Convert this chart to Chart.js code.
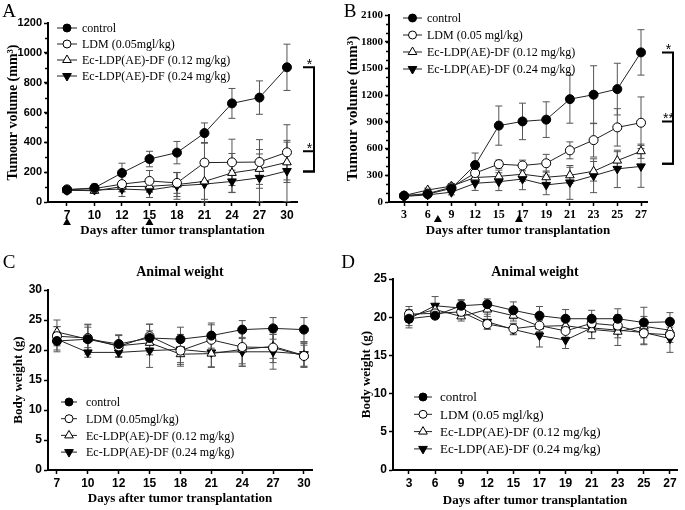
<!DOCTYPE html>
<html lang="en">
<head>
  <meta charset="UTF-8">
  <title>Tumour volume and animal weight</title>
  <script src="https://cdn.jsdelivr.net/npm/chart.js"></script>
  <style>
    body { margin: 0; background: #fff; }
    #wrap { position: relative; width: 685px; height: 510px; }
    canvas { position: absolute; }
  </style>
</head>
<body>
<div id="wrap">
  <canvas id="chartA" width="340" height="250" style="left:0;top:0"></canvas>
  <canvas id="chartB" width="345" height="250" style="left:340px;top:0"></canvas>
  <canvas id="chartC" width="340" height="260" style="left:0;top:250px"></canvas>
  <canvas id="chartD" width="345" height="260" style="left:340px;top:250px"></canvas>
</div>

<script>
  // ---- data ----
  const namesAC = ['control', 'LDM (0.05mgl/kg)', 'Ec-LDP(AE)-DF (0.12 mg/kg)', 'Ec-LDP(AE)-DF (0.24 mg/kg)'];
  const namesBD = ['control', 'LDM (0.05 mgl/kg)', 'Ec-LDP(AE)-DF (0.12 mg/kg)', 'Ec-LDP(AE)-DF (0.24 mg/kg)'];

  const daysAC = ['7', '10', '12', '15', '18', '21', '24', '27', '30'];
  const daysBD = ['3', '6', '9', '12', '15', '17', '19', '21', '23', '25', '27'];

  // A: tumour volume (mm3)
  const controlA = [80, 95, 195, 288, 331, 462, 661, 700, 903];
  const controlAsd = [15, 25, 65, 52, 75, 68, 100, 112, 155];
  const ldmA = [85, 90, 120, 141, 128, 264, 266, 268, 333];
  const ldmAsd = [15, 20, 50, 70, 70, 135, 155, 150, 185];
  const ec12A = [80, 75, 103, 105, 117, 138, 195, 222, 266];
  const ec12Asd = [12, 15, 35, 40, 80, 120, 130, 130, 135];
  const ec24A = [78, 80, 87, 80, 108, 120, 138, 162, 208];
  const ec24Asd = [12, 15, 50, 50, 90, 120, 75, 160, 205];

  // B: tumour volume (mm3)
  const controlB = [70, 88, 153, 415, 858, 905, 925, 1155, 1205, 1268, 1680];
  const controlBsd = [15, 20, 30, 135, 220, 205, 200, 270, 325, 290, 255];
  const ldmB = [70, 95, 165, 325, 425, 410, 435, 580, 695, 838, 890];
  const ldmBsd = [15, 20, 30, 60, 45, 60, 100, 95, 190, 210, 290];
  const ec12B = [72, 135, 178, 275, 288, 312, 278, 300, 345, 465, 570];
  const ec12Bsd = [15, 20, 30, 60, 70, 80, 70, 90, 110, 100, 80];
  const ec24B = [62, 80, 110, 210, 228, 258, 192, 220, 295, 372, 400];
  const ec24Bsd = [10, 20, 30, 80, 100, 120, 110, 190, 190, 210, 235];

  // C: body weight (g)
  const controlC = [21.5, 21.8, 21.0, 22.0, 21.8, 22.4, 23.4, 23.6, 23.4];
  const controlCsd = [1.5, 2.0, 1.5, 2.3, 2.0, 2.1, 1.5, 1.8, 2.0];
  const ldmC = [22.3, 22.0, 20.6, 22.3, 19.9, 21.7, 20.5, 20.4, 19.0];
  const ldmCsd = [1.6, 2.2, 1.8, 2.0, 2.0, 2.5, 2.8, 2.5, 1.8];
  const ec12C = [23.0, 21.8, 20.7, 21.2, 19.3, 19.4, 20.1, 20.6, 19.1];
  const ec12Csd = [2.0, 2.5, 1.8, 2.0, 2.0, 2.2, 2.8, 2.0, 2.0];
  const ec24C = [21.8, 19.6, 19.6, 19.9, 20.1, 19.6, 19.7, 19.7, 19.3];
  const ec24Csd = [2.1, 0.8, 0.8, 2.8, 2.5, 2.5, 2.4, 2.9, 2.0];

  // D: body weight (g)
  const controlD = [19.8, 20.2, 21.5, 21.7, 20.9, 20.2, 19.8, 19.8, 19.8, 19.3, 19.4];
  const controlDsd = [0.9, 0.4, 0.8, 0.7, 1.1, 1.2, 1.2, 1.1, 1.3, 2.0, 1.2];
  const ldmD = [20.4, 20.5, 20.7, 19.1, 18.5, 18.9, 18.2, 19.2, 18.9, 17.9, 17.7];
  const ldmDsd = [1.0, 0.5, 0.8, 0.6, 0.7, 0.8, 0.8, 0.8, 0.8, 1.5, 1.0];
  const ec12D = [20.1, 21.0, 20.1, 21.0, 20.2, 18.8, 18.9, 18.4, 18.1, 18.8, 18.3];
  const ec12Dsd = [0.8, 0.6, 0.6, 0.9, 0.7, 0.8, 0.8, 1.2, 0.8, 1.3, 1.0];
  const ec24D = [19.8, 21.5, 21.2, 19.4, 18.4, 17.6, 17.0, 18.6, 18.3, 18.0, 17.2];
  const ec24Dsd = [1.2, 1.2, 1.0, 1.0, 0.7, 1.5, 1.1, 1.4, 2.0, 1.5, 1.8];

  // dosing days (position on the day axis) and significance brackets
  const dosesA = [0, 3];
  const dosesB = [1.43, 4.85];
  const bracketsA = [[903, 205, '*'], [340, 205, '*']];
  const bracketsB = [[1680, 430, '*'], [905, 430, '**']];

  // ---- styling ----
  const SERIF = '"Liberation Serif", "Times New Roman", serif';
  const SANS = '"Liberation Sans", Arial, sans-serif';
  const markers = [
    {shape: 'circle', fill: '#000', r: 4.5, rot: 0},
    {shape: 'circle', fill: '#fff', r: 4.5, rot: 0},
    {shape: 'triangle', fill: '#fff', r: 5, rot: 0},
    {shape: 'triangle', fill: '#000', r: 5, rot: 180},
  ];

  function drawMarker(ctx, m, x, y) {
    ctx.beginPath();
    if (m.shape === 'circle') {
      ctx.arc(x, y, m.r - 0.5, 0, Math.PI * 2);
    } else {
      let rad = m.rot * Math.PI / 180;
      for (let k = 0; k < 3; k++) {
        const px = x + Math.sin(rad) * m.r, py = y - Math.cos(rad) * m.r;
        k === 0 ? ctx.moveTo(px, py) : ctx.lineTo(px, py);
        rad += Math.PI * 2 / 3;
      }
      ctx.closePath();
    }
    ctx.fillStyle = m.fill;
    ctx.fill();
    ctx.strokeStyle = '#000';
    ctx.lineWidth = 1;
    ctx.stroke();
  }

  const decor = {
    id: 'decor',
    beforeDatasetsDraw(chart) {
      const ctx = chart.ctx, y = chart.scales.y;
      ctx.save();
      ctx.strokeStyle = '#555';
      ctx.lineWidth = 1;
      chart.data.datasets.forEach((ds, di) => {
        chart.getDatasetMeta(di).data.forEach((pt, i) => {
          const v = ds.data[i].y, e = ds.errors[i];
          const top = y.getPixelForValue(v + e);
          const bot = y.getPixelForValue(Math.max(v - e, 0));
          ctx.beginPath();
          ctx.moveTo(pt.x, top); ctx.lineTo(pt.x, bot);
          ctx.moveTo(pt.x - 3.5, top); ctx.lineTo(pt.x + 3.5, top);
          ctx.moveTo(pt.x - 3.5, bot); ctx.lineTo(pt.x + 3.5, bot);
          ctx.stroke();
        });
      });
      ctx.restore();
    },
    afterDraw(chart, args, o) {
      const {ctx, chartArea: ca} = chart;
      const x = chart.scales.x, y = chart.scales.y;
      ctx.save();
      ctx.fillStyle = '#000';
      ctx.textAlign = 'center';
      ctx.textBaseline = 'middle';
      ctx.font = '19px ' + SERIF;
      ctx.fillText(o.letter[0], o.letter[1], o.letter[2]);

      if (o.title) {
        ctx.font = 'bold 14px ' + SERIF;
        ctx.fillText(o.title, (ca.left + ca.right) / 2, o.titleY);
      }

      // minor ticks on the y axis
      if (o.minorStep) {
        ctx.strokeStyle = '#000';
        ctx.lineWidth = 1.5;
        for (let v = o.minorStep; v < y.max; v += o.minorStep) {
          const py = Math.round(y.getPixelForValue(v)) + 0.5;
          ctx.beginPath();
          ctx.moveTo(ca.left - 3, py);
          ctx.lineTo(ca.left, py);
          ctx.stroke();
        }
      }

      // dosing arrows under the day axis
      (o.doses || []).forEach(d => {
        const px = x.getPixelForValue(d), py = o.doseY;
        ctx.beginPath();
        ctx.moveTo(px, py - 4);
        ctx.lineTo(px + 4, py + 3);
        ctx.lineTo(px - 4, py + 3);
        ctx.closePath();
        ctx.fill();
      });

      // significance brackets
      (o.brackets || []).forEach(b => {
        const y0 = y.getPixelForValue(b[0]), y1 = y.getPixelForValue(b[1]);
        const [x0, x1] = o.bracketX;
        ctx.strokeStyle = '#000';
        ctx.lineWidth = 2;
        ctx.beginPath();
        ctx.moveTo(x0, y0); ctx.lineTo(x1, y0); ctx.lineTo(x1, y1); ctx.lineTo(x0, y1);
        ctx.stroke();
        ctx.font = '14px ' + SANS;
        ctx.textBaseline = 'alphabetic';
        ctx.fillStyle = '#000';
        ctx.fillText(b[2], (x0 + x1) / 2 + 1, y0 + 2);
      });

      // legend
      const L = o.legend;
      ctx.font = L.size + 'px ' + SERIF;
      ctx.textAlign = 'left';
      ctx.textBaseline = 'middle';
      chart.data.datasets.forEach((ds, i) => {
        const ly = L.y + i * L.rowH;
        ctx.strokeStyle = '#222';
        ctx.lineWidth = 1;
        ctx.beginPath();
        ctx.moveTo(L.x0, ly); ctx.lineTo(L.x1, ly);
        ctx.stroke();
        drawMarker(ctx, markers[i], (L.x0 + L.x1) / 2, ly);
        ctx.fillStyle = '#000';
        ctx.fillText(ds.label, L.tx, ly + 1);
      });
      ctx.restore();
    }
  };

  function buildPanel(id, p) {
    const datasets = p.series.map((vals, k) => ({
      label: p.names[k],
      data: vals.map((v, i) => ({x: i, y: v})),
      errors: p.errors[k],
      borderColor: '#222',
      borderWidth: 1,
      pointStyle: markers[k].shape,
      pointRotation: markers[k].rot,
      pointRadius: markers[k].r,
      pointBackgroundColor: markers[k].fill,
      pointBorderColor: '#000',
      pointBorderWidth: 1,
      tension: 0,
    }));

    return new Chart(document.getElementById(id), {
      type: 'line',
      data: {datasets},
      plugins: [decor],
      options: {
        responsive: false,
        animation: false,
        events: [],
        layout: {padding: p.padding},
        scales: {
          x: {
            type: 'linear',
            min: p.xRange[0],
            max: p.xRange[1],
            afterBuildTicks: s => { s.ticks = p.days.map((d, i) => ({value: i})); },
            afterFit: s => { s.height = p.xH; },
            border: {color: '#000', width: 2},
            grid: {drawOnChartArea: false, tickLength: 4, tickWidth: 1.5, tickColor: '#000'},
            ticks: {
              callback: v => p.days[v],
              color: '#000',
              padding: 2,
              maxRotation: 0,
              font: {family: p.tickFamily, size: 12, weight: 'bold'},
            },
            title: {
              display: true,
              text: 'Days after tumor transplantation',
              color: '#000',
              font: {family: SERIF, size: 13, weight: 'bold'},
              padding: {top: 0, bottom: p.xTitlePad},
            },
          },
          y: {
            min: 0,
            max: p.yMax,
            afterFit: s => { s.width = p.yW; },
            border: {color: '#000', width: 2},
            grid: {drawOnChartArea: false, tickLength: 4, tickWidth: 1.5, tickColor: '#000'},
            ticks: {
              stepSize: p.yStep,
              callback: v => String(v),
              color: '#000',
              padding: 2,
              font: {family: p.tickFamily, size: p.yFont, weight: 'bold'},
            },
            title: {
              display: true,
              text: p.yTitle,
              color: '#000',
              font: {family: SERIF, size: p.yTitleSize, weight: 'bold'},
              padding: {top: p.yTitlePad, bottom: 0},
            },
          },
        },
        plugins: {
          legend: {display: false},
          tooltip: {enabled: false},
          decor: p.decor,
        },
      },
    });
  }

  buildPanel('chartA', {
    names: namesAC, days: daysAC,
    series: [controlA, ldmA, ec12A, ec24A],
    errors: [controlAsd, ldmAsd, ec12Asd, ec24Asd],
    padding: {left: 0, right: 43, top: 23, bottom: 0},
    xRange: [-0.69, 8.365], xH: 48, xTitlePad: 12,
    yW: 48, yMax: 1200, yStep: 200, yFont: 11, tickFamily: SANS,
    yTitle: 'Tumour volume (mm³)', yTitleSize: 14, yTitlePad: 5,
    decor: {
      letter: ['A', 9, 12], minorStep: 100,
      doses: dosesA, doseY: 222,
      brackets: bracketsA, bracketX: [303, 314],
      legend: {x0: 57, x1: 77, tx: 82, y: 28, rowH: 16, size: 12},
    },
  });

  buildPanel('chartB', {
    names: namesBD, days: daysBD,
    series: [controlB, ldmB, ec12B, ec24B],
    errors: [controlBsd, ldmBsd, ec12Bsd, ec24Bsd],
    padding: {left: 0, right: 38, top: 15, bottom: 0},
    xRange: [-0.633, 10.253], xH: 48, xTitlePad: 12,
    yW: 49, yMax: 2100, yStep: 300, yFont: 11, tickFamily: SERIF,
    yTitle: 'Tumour volume (mm³)', yTitleSize: 15, yTitlePad: 4,
    decor: {
      letter: ['B', 10, 12], minorStep: 100,
      doses: dosesB, doseY: 219,
      brackets: bracketsB, bracketX: [322, 333],
      legend: {x0: 63, x1: 82, tx: 87, y: 18, rowH: 17, size: 12},
    },
  });

  buildPanel('chartC', {
    names: namesAC, days: daysAC,
    series: [controlC, ldmC, ec12C, ec24C],
    errors: [controlCsd, ldmCsd, ec12Csd, ec24Csd],
    padding: {left: 0, right: 28, top: 40, bottom: 0},
    xRange: [-0.29, 8.26], xH: 40, xTitlePad: 4,
    yW: 48, yMax: 30, yStep: 5, yFont: 12, tickFamily: SANS,
    yTitle: 'Body weight (g)', yTitleSize: 13, yTitlePad: 11,
    decor: {
      letter: ['C', 9, 13], title: 'Animal weight', titleY: 22,
      legend: {x0: 61, x1: 77, tx: 86, y: 152, rowH: 16.7, size: 12},
    },
  });

  buildPanel('chartD', {
    names: namesBD, days: daysBD,
    series: [controlD, ldmD, ec12D, ec24D],
    errors: [controlDsd, ldmDsd, ec12Dsd, ec24Dsd],
    padding: {left: 0, right: 8, top: 29, bottom: 0},
    xRange: [-0.613, 10.27], xH: 40, xTitlePad: 2,
    yW: 53, yMax: 25, yStep: 5, yFont: 12, tickFamily: SANS,
    yTitle: 'Body weight (g)', yTitleSize: 13, yTitlePad: 19,
    decor: {
      letter: ['D', 8, 13], title: 'Animal weight', titleY: 22,
      legend: {x0: 74, x1: 92, tx: 100, y: 147, rowH: 17.3, size: 13},
    },
  });
</script>
</body>
</html>
